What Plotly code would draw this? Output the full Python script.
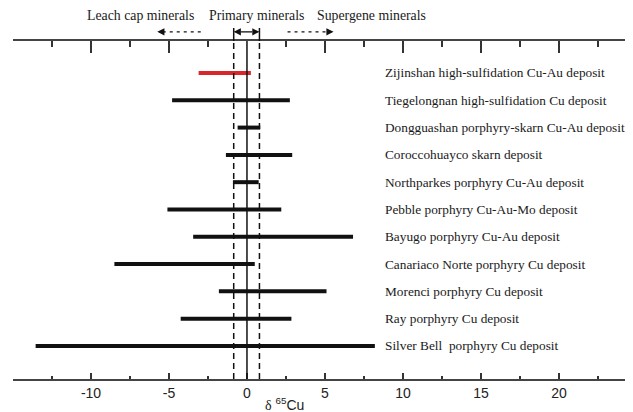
import plotly.graph_objects as go

deposits = [
    "Zijinshan high-sulfidation Cu-Au deposit",
    "Tiegelongnan high-sulfidation Cu deposit",
    "Dongguashan porphyry-skarn Cu-Au deposit",
    "Coroccohuayco skarn deposit",
    "Northparkes porphyry Cu-Au deposit",
    "Pebble porphyry Cu-Au-Mo deposit",
    "Bayugo porphyry Cu-Au deposit",
    "Canariaco Norte porphyry Cu deposit",
    "Morenci porphyry Cu deposit",
    "Ray porphyry Cu deposit",
    "Silver Bell  porphyry Cu deposit",
]
d65_min = [-3.1, -4.8, -0.6, -1.35, -0.9, -5.1, -3.45, -8.5, -1.8, -4.25, -13.55]
d65_max = [0.25, 2.75, 0.85, 2.9, 0.75, 2.2, 6.8, 0.5, 5.1, 2.85, 8.2]
highlight = [True] + [False] * 10
primary_range = [-0.85, 0.8]
x_ticks = [-10, -5, 0, 5, 10, 15, 20]
x_ticktext = ["-10", "-5", "0", "5", "10", "15", "20"]
minor_ticks = [-12.5, -7.5, -2.5, 2.5, 7.5, 12.5, 17.5, 22.5]

fig = go.Figure()

bx, by, rx, ry = [], [], [], []
for i, (lo, hi, hl) in enumerate(zip(d65_min, d65_max, highlight)):
    if hl:
        rx += [lo, hi, None]; ry += [i, i, None]
    else:
        bx += [lo, hi, None]; by += [i, i, None]

fig.add_trace(go.Scatter(x=bx, y=by, mode="lines", line=dict(color="#111111", width=4),
                         hoverinfo="skip", showlegend=False))
fig.add_trace(go.Scatter(x=rx, y=ry, mode="lines", line=dict(color="#d9262b", width=4),
                         hoverinfo="skip", showlegend=False))
# invisible trace for the top axis
fig.add_trace(go.Scatter(x=[0], y=[0], xaxis="x2", mode="markers", marker=dict(opacity=0),
                         hoverinfo="skip", showlegend=False))

lfont = dict(family="Liberation Serif", size=13.3, color="#1a1a1a")
for i, name in enumerate(deposits):
    fig.add_annotation(x=8.7, y=i, xref="x", yref="y", text=name, showarrow=False,
                       xanchor="left", yanchor="middle", font=lfont)

# zero line and primary range lines
fig.add_shape(type="line", xref="x", yref="paper", x0=0, x1=0, y0=0, y1=1,
              line=dict(color="#111111", width=1.5))
for v in primary_range:
    fig.add_shape(type="line", xref="x", yref="paper", x0=v, x1=v, y0=0, y1=1,
                  line=dict(color="#111111", width=1.5, dash="6px,4px"))
    fig.add_shape(type="line", xref="x", yref="paper", x0=v, x1=v, y0=1.0, y1=1.0385,
                  line=dict(color="#111111", width=1.5))

ya = 1.027
fig.add_shape(type="line", xref="x", yref="paper", x0=-5.4, x1=-2.8, y0=ya, y1=ya,
              line=dict(color="#111111", width=1.3, dash="3px,4px"))
fig.add_shape(type="line", xref="x", yref="paper", x0=2.6, x1=5.2, y0=ya, y1=ya,
              line=dict(color="#111111", width=1.3, dash="3px,4px"))
fig.add_shape(type="line", xref="x", yref="paper", x0=-0.4, x1=0.35, y0=ya, y1=ya,
              line=dict(color="#111111", width=1.3))

def head(x, ax):
    fig.add_annotation(x=x, y=ya, xref="x", yref="paper", ax=ax, ay=0, text="",
                       showarrow=True, arrowhead=2, arrowsize=1.1, arrowwidth=1.3,
                       arrowcolor="#111111", standoff=0)

head(-5.75, 6)
head(5.55, -6)
head(primary_range[0], 7)
head(primary_range[1], -7)

tfont = dict(family="Liberation Serif", size=13.8, color="#1a1a1a")
ty = 1.075
fig.add_annotation(x=-3.3, y=ty, xref="x", yref="paper", text="Leach cap minerals",
                   showarrow=False, xanchor="right", yanchor="middle", font=tfont)
fig.add_annotation(x=0.63, y=ty, xref="x", yref="paper", text="Primary minerals",
                   showarrow=False, xanchor="center", yanchor="middle", font=tfont)
fig.add_annotation(x=4.35, y=ty, xref="x", yref="paper", text="Supergene minerals",
                   showarrow=False, xanchor="left", yanchor="middle", font=tfont)

fig.add_annotation(x=2.4, y=-0.074, xref="x", yref="paper",
                   text="<span style='font-family:Liberation Serif'>δ</span> <sup>65</sup>Cu",
                   showarrow=False, xanchor="center", yanchor="middle",
                   font=dict(family="Liberation Sans", size=14, color="#222222"))

# the page body has an 8px margin, so the figure is sized to the remaining window
fig.update_layout(
    width=625, height=404,
    margin=dict(l=5, r=7, t=33, b=33),
    paper_bgcolor="white", plot_bgcolor="white",
    xaxis=dict(range=[-15, 24.3], tickvals=x_ticks, ticktext=x_ticktext,
               ticks="inside", ticklen=6, tickwidth=1.5,
               tickcolor="#333333", showline=True, linecolor="#444444", linewidth=1.5,
               showgrid=False, zeroline=False,
               tickfont=dict(family="Liberation Sans", size=14, color="#222222"),
               minor=dict(tickvals=minor_ticks, ticks="inside", ticklen=3, tickwidth=1.5,
                          tickcolor="#333333")),
    xaxis2=dict(overlaying="x", side="top", matches="x", range=[-15, 24.3],
                tickvals=[-10, -5, 5, 10, 15, 20], ticks="inside", ticklen=12, tickwidth=1.5,
                tickcolor="#333333", showline=True, linecolor="#444444", linewidth=1.5,
                showgrid=False, zeroline=False, showticklabels=False,
                minor=dict(tickvals=minor_ticks, ticks="inside", ticklen=6, tickwidth=1.5,
                           tickcolor="#333333")),
    yaxis=dict(range=[11.21, -1.172], visible=False, showgrid=False, zeroline=False),
)

fig.write_html("out.html")
